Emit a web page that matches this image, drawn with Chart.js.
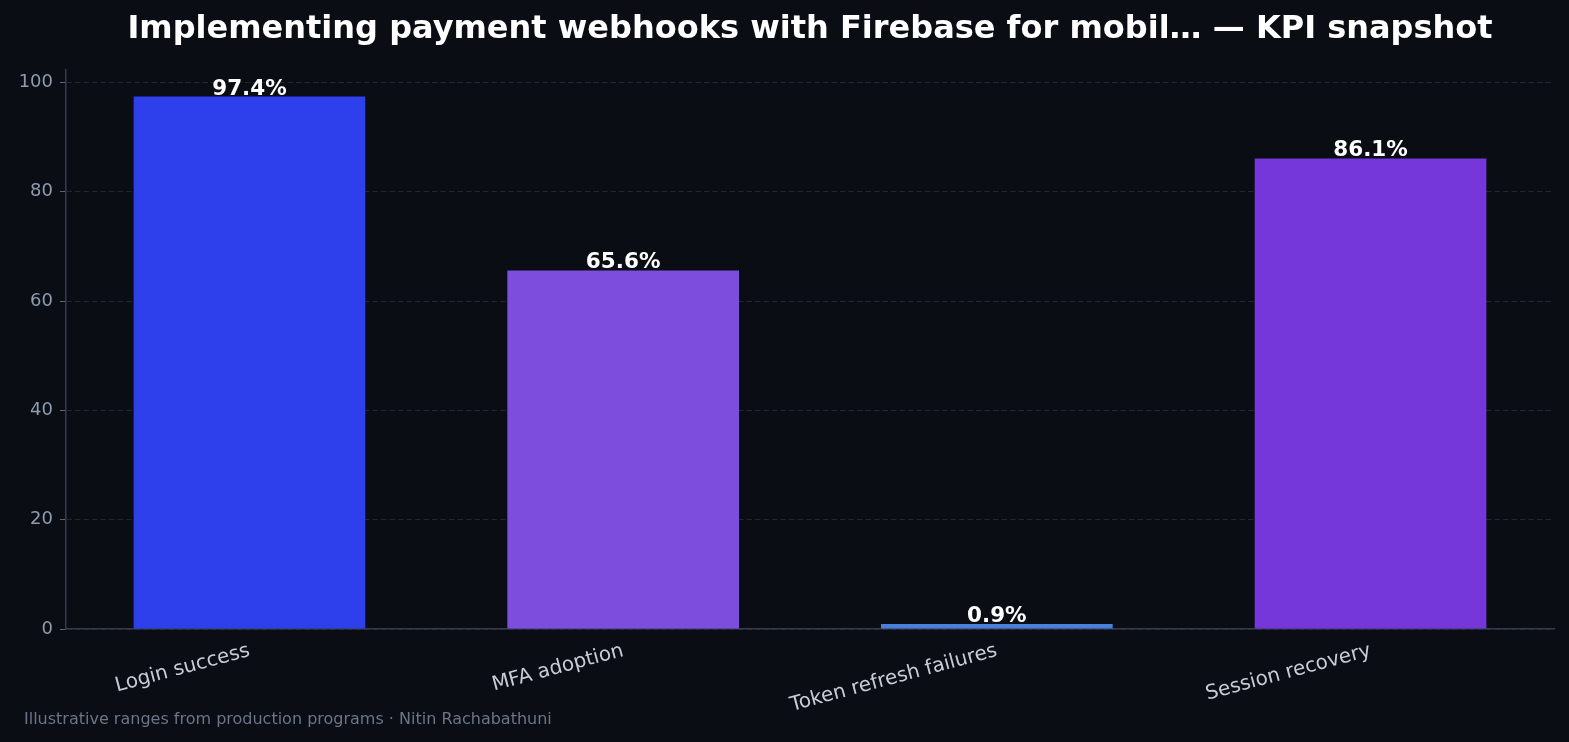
<!DOCTYPE html>
<html>
<head>
<meta charset="utf-8">
<script src="https://cdn.jsdelivr.net/npm/chart.js@4"></script>
<style>
  html, body { margin: 0; padding: 0; background: #0a0d14; }
  #wrap { width: 1569px; height: 742px; }
</style>
</head>
<body>
<div id="wrap"><canvas id="kpiChart" width="1569" height="742"></canvas></div>
<script>
// data
var categories = ["Login success", "MFA adoption", "Token refresh failures", "Session recovery"];
var values = [97.4, 65.6, 0.9, 86.1];
var barColors = ["#2e40ec", "#7d4ddd", "#4a7fdc", "#7536da"];
var yTicks = [0, 20, 40, 60, 80, 100];

var titleText = "Implementing payment webhooks with Firebase for mobil\u2026 \u2014 KPI snapshot";
var footerText = "Illustrative ranges from production programs \u00b7 Nitin Rachabathuni";

var font = "'DejaVu Sans', sans-serif";

// title, footer and value labels
var textPlugin = {
    id: "texts",
    afterDatasetsDraw: function(chart) {
        var ctx = chart.ctx;
        var meta = chart.getDatasetMeta(0);
        ctx.save();
        ctx.fillStyle = "#ffffff";
        ctx.font = "bold 21.5px " + font;
        ctx.textAlign = "center";
        ctx.textBaseline = "alphabetic";
        for (var i = 0; i < meta.data.length; i++) {
            var bar = meta.data[i];
            ctx.fillText(values[i].toFixed(1) + "%", bar.x, bar.y - 2);
        }
        ctx.restore();
    },
    afterDraw: function(chart) {
        var ctx = chart.ctx;
        var area = chart.chartArea;
        ctx.save();
        ctx.fillStyle = "#ffffff";
        ctx.font = "bold 32px " + font;
        ctx.textAlign = "center";
        ctx.textBaseline = "middle";
        ctx.fillText(titleText, (area.left + area.right) / 2, 30);

        ctx.fillStyle = "#6b7587";
        ctx.font = "16px " + font;
        ctx.textAlign = "left";
        ctx.fillText(footerText, 24, 720);
        ctx.restore();
    }
};

var kpiChart = new Chart(document.getElementById("kpiChart"), {
    type: "bar",
    data: {
        datasets: [{
            data: values.map(function(v, i) { return { x: i, y: v }; }),
            backgroundColor: barColors,
            borderWidth: 0,
            barPercentage: 0.62,
            categoryPercentage: 1.0
        }]
    },
    options: {
        responsive: false,
        animation: false,
        layout: { padding: { top: 70, right: 15, left: 0, bottom: 0 } },
        plugins: {
            legend: { display: false },
            tooltip: { enabled: false }
        },
        scales: {
            x: {
                type: "linear",
                offset: false,
                min: -0.491,
                max: 3.491,
                afterBuildTicks: function(scale) {
                    scale.ticks = categories.map(function(c, i) { return { value: i }; });
                },
                grid: { display: false, drawTicks: true, tickLength: 5, color: "#000000" },
                border: { color: "#333d4d", width: 1.5 },
                ticks: {
                    color: "#c8ccd6",
                    font: { family: font, size: 20 },
                    minRotation: 15,
                    maxRotation: 15,
                    padding: 5,
                    callback: function(v) { return categories[v]; }
                },
                afterFit: function(scale) { scale.height = 113; }
            },
            y: {
                min: 0,
                max: 102.27,
                z: 1,
                afterBuildTicks: function(scale) {
                    scale.ticks = yTicks.map(function(v) { return { value: v }; });
                },
                grid: {
                    color: "rgba(45,55,75,0.6)",
                    tickColor: "#5a6478",
                    tickLength: 6,
                    lineWidth: 1
                },
                border: { color: "#333d4d", width: 1.5, dash: [5.5, 3] },
                ticks: {
                    color: "#8f9bb0",
                    font: { family: font, size: 18 },
                    padding: 7
                },
                afterFit: function(scale) { scale.width = 66; }
            }
        }
    },
    plugins: [textPlugin]
});
</script>
</body>
</html>
